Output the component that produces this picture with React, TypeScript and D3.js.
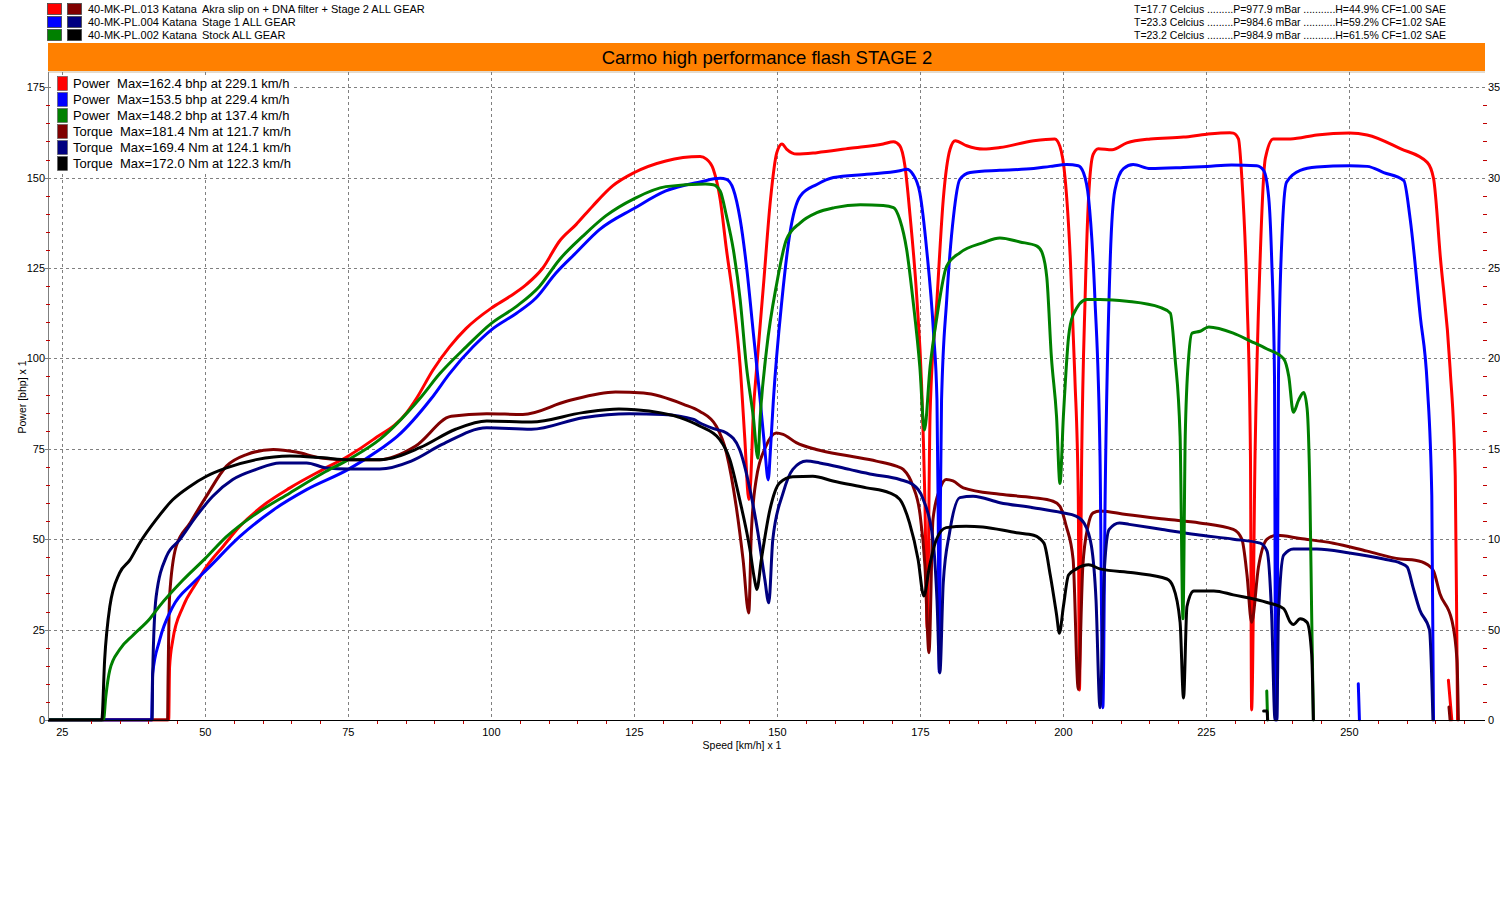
import React from "react";
import * as d3 from "d3";

type Pt = [number, number] | null;

// ---- Header / legend text ----
const runIds = ["40-MK-PL.013 Katana", "40-MK-PL.004 Katana", "40-MK-PL.002 Katana"];
const runDescs = ["Akra slip on + DNA filter + Stage 2 ALL GEAR", "Stage 1 ALL GEAR", "Stock ALL GEAR"];
const runConditions = [
  "T=17.7 Celcius .........P=977.9 mBar ...........H=44.9% CF=1.00 SAE",
  "T=23.3 Celcius .........P=984.6 mBar ...........H=59.2% CF=1.02 SAE",
  "T=23.2 Celcius .........P=984.9 mBar ...........H=61.5% CF=1.02 SAE",
];
const title = "Carmo high performance flash STAGE 2";
const legendLabels = [
  "Power  Max=162.4 bhp at 229.1 km/h",
  "Power  Max=153.5 bhp at 229.4 km/h",
  "Power  Max=148.2 bhp at 137.4 km/h",
  "Torque  Max=181.4 Nm at 121.7 km/h",
  "Torque  Max=169.4 Nm at 124.1 km/h",
  "Torque  Max=172.0 Nm at 122.3 km/h",
];
const xTitle = "Speed [km/h] x 1";
const yTitle = "Power [bhp] x 1";

// ---- Axes ----
const speedDomain = [22.5, 273.7];
const powerDomain = [0, 179.2];
const torqueDomain = [0, 35.84]; // daNm on right axis
const speedTicks = [25, 50, 75, 100, 125, 150, 175, 200, 225, 250];
const powerTicks = [0, 25, 50, 75, 100, 125, 150, 175];
const torqueTicks = [0, 5, 10, 15, 20, 25, 30, 35];
const torqueTickLabels = ["0", "50", "10", "15", "20", "25", "30", "35"];

// ---- Series: power in bhp, torque in Nm, vs speed km/h ----
const powerStage2: Pt[] = [
  [22.5, 0], [43.6, 0], [43.75, 14.6], [44.3, 22], [46.1, 31.3], [48.4, 37.8], [50.2, 42.4], [53.1, 48], [56, 53.5],
  [60.7, 60], [64.8, 64.2], [70.6, 69.3], [75, 73], [79.4, 77.6], [85.2, 85], [86.9, 88.9], [89.8, 96.8], [92.7, 103.2], [95.6, 108.3],
  [100, 113.9], [103.2, 117.1], [106.1, 120.4], [109, 125], [111.9, 132.4], [114.8, 137], [117.7, 142.1], [121.2, 147.7],
  [125, 151.4], [130.5, 154.6], [136.5, 155.8], [137.6, 155.1], [138.8, 152.3], [140, 144], [141.1, 130.1], [142.3, 116.2],
  [143.5, 97.7], [144.3, 78], [145.0, 61], [145.3, 65], [145.8, 85], [146.4, 97.7], [147.6, 120.8], [148.8, 144],
  [149.9, 156.9], [150.8, 159.3], [151.6, 157.9], [153.4, 156.5], [156.9, 156.9], [162.7, 158.1], [168.5, 159.3],
  [170.3, 159.9], [171.4, 158.8], [172.3, 153.2], [173.2, 139.4], [174.4, 116.2], [175.2, 93.1], [175.8, 60], [176.2, 25],
  [176.7, 85], [177.9, 116.2], [179, 144], [180.2, 157.9], [181.1, 160.2], [183.1, 158.8], [186, 157.9], [188.9, 158.3],
  [194.8, 160.2], [198.5, 160.7], [199.4, 158.6], [200.3, 149.8], [201.2, 127.9], [202, 95], [202.6, 62], [202.8, 8.3],
  [203.2, 73], [203.8, 116.9], [204.4, 144.3], [205.2, 156.4], [206.1, 158], [208.5, 157.7], [211.1, 159.6], [215.2, 160.7],
  [221, 161.2], [225.1, 162], [229.1, 162.4], [229.7, 162.3], [230.6, 160.7], [231.2, 149.8], [232.1, 116.9], [232.7, 73], [232.9, 2.8],
  [233.5, 73], [234.4, 127.9], [235.3, 155.3], [236.7, 160.7], [239.7, 160.7], [244.3, 161.8], [250, 162.3], [253.1, 161.8],
  [258.9, 158], [263.6, 154.2], [264.7, 149.8], [265.9, 127.9], [267.6, 97.2], [268.5, 67.5], [268.8, 18.2], [268.9, 0],
  null, [267.3, 11], [267.9, 0],
];

const powerStage1: Pt[] = [
  [22.5, 0], [40.6, 0], [40.8, 12.8], [42, 22], [44.3, 31.3], [47.8, 37.8], [50.2, 41.5], [56, 50.7], [61.9, 58.1],
  [67.7, 63.7], [75, 69.3], [80.5, 74.8], [83.6, 78.5], [89.5, 88.9], [92.7, 95.8], [96.8, 103.2], [100, 107.9], [104.4, 112.5],
  [107.8, 116.7], [111.3, 123.6], [114.8, 129.2], [118.9, 135.6], [125, 141.5], [130.5, 146.3], [136.5, 148.8],
  [140, 149.8], [141.1, 149.5], [142.3, 146.8], [143.5, 138.4], [144.6, 125.5], [145.8, 107], [147, 88.4], [147.8, 75],
  [148.4, 66.4], [148.8, 75], [149.3, 88.4], [150.8, 116.2], [152.2, 134.7], [154, 144.9], [156.9, 148.1], [159.8, 150],
  [165.6, 150.9], [171.4, 151.9], [172.6, 152.3], [173.7, 150.9], [174.9, 145.8], [176.1, 130.1], [177.3, 107],
  [177.9, 88.4], [178.1, 60], [178.3, 13.3], [178.5, 60], [178.7, 88.4], [179.6, 116.2], [180.8, 139.4], [181.9, 149.5],
  [183.7, 151.4], [188.9, 152], [194.8, 152.5], [197.7, 153.1], [200.6, 153.6], [202.6, 153.3], [203.5, 151.4],
  [204.4, 144.3], [205.5, 116.9], [206.4, 73], [206.9, 3.4], [207.3, 62], [208.2, 127.9], [209, 146.5], [210.5, 152.5],
  [212.2, 153.6], [215.2, 152.5], [221, 152.8], [225.1, 153.1], [229.4, 153.5], [233.8, 153.3], [235, 152], [235.9, 144.3],
  [236.4, 127.9], [236.9, 95], [237.1, 0], [237.3, 0], [237.6, 95], [238.2, 133.3], [239, 148.7], [241.4, 152],
  [244.3, 152.9], [250, 153.3], [253.1, 153.1], [256, 151.4], [259.5, 149.2], [260.6, 138.8], [262.4, 111.4],
  [263.6, 92.8], [264.4, 62], [264.7, 0],
  null, [251.55, 10], [251.75, 0],
];

const powerStock: Pt[] = [
  [22.5, 0], [32.2, 0], [32.6, 6.4], [33.3, 13.8], [35, 19.4], [37.4, 23.5], [40.3, 28], [42, 31.5], [46.1, 38.7],
  [50, 44.7], [53.7, 50.7], [59, 57.2], [64.8, 62.8], [70.6, 68.3], [75, 72], [80.5, 77.6], [87.5, 88.9], [91, 95.8],
  [95.6, 103.2], [100, 109.7], [104.4, 114.4], [108.4, 119.9], [111.9, 127.3], [116, 133.8], [120, 139.4], [125, 144.2],
  [130.5, 147.5], [137.4, 148.2], [138.8, 148], [140, 146.3], [141.1, 139.4], [142.3, 130.1], [143.5, 116.2],
  [144.6, 97.7], [145.8, 83.8], [146.6, 72.4], [147, 83.8], [148.1, 102.3], [149.9, 120.8], [151.6, 132.9], [154, 137.5],
  [156.9, 140.3], [160, 141.7], [164.5, 142.5], [168.5, 142.3], [170.3, 141.7], [171.4, 138.4], [172.6, 130.1],
  [173.7, 116.2], [174.9, 97.7], [175.7, 80.2], [176.7, 97.7], [177.9, 111.6], [179.6, 125.5], [181.9, 129.2],
  [186, 132], [188.9, 133.3], [192.4, 132.2], [195.3, 131.1], [196.2, 129.5], [197.1, 122.4], [197.9, 100.4], [198.8, 84],
  [199.4, 65.4], [200, 84], [200.9, 105.9], [201.7, 112], [204.1, 116.3], [206.4, 116.3], [211.1, 115.8], [216.9, 114.1],
  [218.7, 112.5], [219.5, 100.4], [220.4, 78.5], [220.9, 28], [221.3, 78.5], [221.9, 100.4], [222.5, 107], [223.9, 107.5],
  [225.4, 108.7], [229.7, 107], [232.7, 104.8], [235.6, 102.6], [238.5, 99.9], [239.4, 95], [240.2, 85.1], [241.1, 88.4],
  [242, 90.6], [242.6, 86.2], [243.1, 62], [243.4, 29.2], [243.7, 0],
  null, [235.55, 8], [235.7, 0],
];

const torqueStage2: Pt[] = [
  [22.5, 0], [43.4, 0], [43.5, 25.6], [43.75, 68.2], [44.9, 96], [47.3, 108.8], [50.2, 123.8], [53.7, 140.4],
  [57.2, 146.8], [61.9, 149.6], [65.9, 148.2], [70, 145], [73.5, 144], [80.5, 144], [86.7, 151.4], [93, 168], [99.2, 169.4], [105.5, 169], [113.3, 176.4],
  [121.7, 181.4], [126.6, 180.8], [133.6, 174.6], [136.4, 170.8], [139.3, 162.6], [141.1, 147.8], [142.8, 118.2],
  [144, 88.8], [145, 59.2], [145.45, 103.6], [146.3, 133], [148, 151.4], [149.8, 158.8], [151, 158], [153.3, 153.4],
  [156.8, 149.6], [162.6, 146], [167.3, 143.2], [170.8, 140.4], [172, 138.6], [173.7, 129.4], [174.9, 114.6],
  [175.8, 85.2], [176.5, 37.2], [177.2, 111], [178.4, 127.6], [179.5, 133], [180.7, 132.2], [182.5, 128.4],
  [188.9, 124.8], [194.7, 123], [198.2, 121], [199.4, 118.2], [200.5, 107.2], [201.7, 88.8], [202.6, 17], [203.4, 85.2],
  [204.3, 107.2], [205.2, 114.6], [206.4, 115.6], [211, 113.6], [218, 111], [223.8, 109], [229.7, 105.4], [231.2, 100],
  [232.1, 80.2], [232.9, 54], [234.1, 84.6], [235.6, 100], [237.3, 102.2], [241.4, 100.4], [247.2, 97.8], [253.1, 93.4],
  [258.9, 89], [261.5, 88.4], [263.6, 86], [264.7, 82.4], [265.8, 70], [267.9, 55.2], [268.8, 33.2], [269.05, 0],
  null, [267.4, 7.2], [267.6, 0],
];

const torqueStage1: Pt[] = [
  [22.5, 0], [40.7, 0], [40.8, 25.6], [41.4, 68.2], [43.2, 90.4], [45.5, 99.6], [48.4, 112.6], [51.3, 123.8],
  [54.8, 133], [58.9, 138.6], [63, 142.2], [67.7, 142.2], [71.2, 139.4], [75, 138.8], [80.5, 138.8], [86, 143.2], [91.4, 152.4], [99.2, 161.6], [107, 160.8],
  [116, 167.2], [124.1, 169.4], [130, 169], [135.4, 166.2], [136.4, 164.4], [139, 161], [141.1, 158.8], [143.4, 149.6],
  [145.2, 127.6], [146.6, 103.6], [147.8, 77.8], [148.5, 64.8], [149.2, 99.8], [151, 125.6], [152.7, 138.6],
  [155.1, 143.2], [157.4, 142.2], [162.6, 138.6], [166.7, 135.8], [171.4, 133], [173.7, 130.2], [175.5, 122],
  [177.2, 99.8], [177.9, 66.6], [178.4, 26], [179, 76], [180.1, 103.6], [181.9, 123], [184.2, 123.8], [188.9, 120.2],
  [194.7, 117.4], [199.8, 114.6], [202.2, 112.8], [203.6, 109], [204.9, 96.2], [205.7, 66.6], [206.4, 6.8],
  [207.2, 85.2], [208, 105.4], [209.8, 109], [211.5, 108.2], [217.3, 105.4], [223.1, 102.6], [229.7, 100],
  [234.4, 97.8], [235.6, 93.4], [236.4, 58.4], [237, 0], [237.3, 0], [237.6, 58.4], [238.5, 91.2], [240.2, 94.6],
  [244.3, 94.6], [250, 92.4], [256, 89], [258.9, 86.8], [260.1, 84.6], [261.1, 73.6], [262.3, 60.8], [264, 49.8],
  [264.6, 0],
];

const torqueStock: Pt[] = [
  [22.5, 0], [31.9, 0], [32.4, 33.2], [33.3, 62.6], [35, 81.2], [36.8, 88.4], [38.5, 97.8], [41.4, 110.8],
  [44.3, 121.8], [47.3, 129.2], [50.2, 134.8], [53.7, 139.4], [58.9, 144], [64.8, 146], [70.6, 145], [75, 144],
  [80.5, 144], [87.5, 150.6], [93.75, 160.8],
  [99.2, 165.4], [107, 164.8], [116, 170], [122.3, 172], [125.2, 171.6], [133, 167.2], [136.4, 162.6], [139.9, 155.2],
  [141.7, 144], [143.4, 122], [145.2, 94.4], [146, 77.8], [146.4, 72.2], [147.2, 88.8], [148.7, 116.4], [150.4, 131.2],
  [152.7, 134.6], [156.2, 134.8], [159.7, 132.2], [165.6, 128.4], [169.6, 125.6], [171.4, 122], [173.1, 109],
  [174.6, 88.8], [175.6, 68.6], [176.6, 85.2], [177.8, 99.8], [179.5, 106.4], [183, 107.2], [185.9, 106.8],
  [191.8, 103.6], [194.8, 102.2], [196.6, 97.8], [197.7, 80.2], [198.8, 58.4], [199.3, 48], [200, 62.8], [200.9, 80.2],
  [202.3, 83.6], [204.4, 85.8], [206.4, 83.6], [212.2, 81.4], [218.1, 78], [219.2, 73.6], [220.4, 54], [221, 12.2],
  [221.6, 62.8], [222.8, 71.4], [226.3, 71.4], [229.7, 69.2], [235.6, 65], [238.5, 61.6], [239.7, 54], [240.2, 52.8],
  [241.4, 56], [242.6, 54], [243.4, 36.4], [243.7, 0],
  null, [235.0, 5], [235.6, 5], [235.7, 0],
];

const colors = {
  red: "#ff0000",
  blue: "#0000ff",
  green: "#008000",
  darkRed: "#800000",
  navy: "#000080",
  black: "#000000",
};

const headerSwatches = [
  [colors.red, colors.darkRed],
  [colors.blue, colors.navy],
  [colors.green, colors.black],
];
const legendColors = [colors.red, colors.blue, colors.green, colors.darkRed, colors.navy, colors.black];

const FONT = "'Liberation Sans', Arial, sans-serif";

export default function App() {
  const W = 1500;
  const H = 900;
  const left = 48, right = 1485, top = 72, bottom = 720;

  const x = d3.scaleLinear().domain(speedDomain).range([left, right]);
  const y = d3.scaleLinear().domain(powerDomain).range([bottom, top]);
  const yR = d3.scaleLinear().domain(torqueDomain).range([bottom, top]);

  const powerLine = d3
    .line<Pt>()
    .defined((d) => d !== null)
    .x((d) => x((d as [number, number])[0]))
    .y((d) => y((d as [number, number])[1]))
    .curve(d3.curveMonotoneX);
  const torqueLine = d3
    .line<Pt>()
    .defined((d) => d !== null)
    .x((d) => x((d as [number, number])[0]))
    .y((d) => yR((d as [number, number])[1] / 10))
    .curve(d3.curveMonotoneX);

  // draw order per run: power then torque
  const series = [
    { data: powerStage2, color: colors.red, gen: powerLine },
    { data: torqueStage2, color: colors.darkRed, gen: torqueLine },
    { data: powerStage1, color: colors.blue, gen: powerLine },
    { data: torqueStage1, color: colors.navy, gen: torqueLine },
    { data: powerStock, color: colors.green, gen: powerLine },
    { data: torqueStock, color: colors.black, gen: torqueLine },
  ];

  const xMinor = d3.range(25, 271, 5).filter((v) => v % 25 !== 0);
  const yMinor = d3.range(5, 176, 5).filter((v) => v % 25 !== 0);
  const yRMinor = d3.range(1, 36, 1).filter((v) => v % 5 !== 0);

  return (
    <svg
      width={W}
      height={H}
      style={{ position: "absolute", left: 0, top: 0, background: "#fff" }}
      fontFamily={FONT}
    >
      <rect x={0} y={0} width={W} height={H} fill="#fff" />
      {/* header */}
      {runIds.map((id, i) => (
        <g key={id}>
          <rect x={47.5} y={3.5 + i * 13} width={14} height={11} fill={headerSwatches[i][0]} stroke="#444" strokeWidth={0.8} />
          <rect x={67.5} y={3.5 + i * 13} width={14} height={11} fill={headerSwatches[i][1]} stroke="#444" strokeWidth={0.8} />
          <text x={88} y={13 + i * 13} fontSize={11} fill="#000">{id}</text>
          <text x={202} y={13 + i * 13} fontSize={11} fill="#000">{runDescs[i]}</text>
          <text x={1134} y={13 + i * 13} fontSize={10.5} fill="#000" textLength={312} lengthAdjust="spacing" style={{ whiteSpace: "pre" }}>
            {runConditions[i]}
          </text>
        </g>
      ))}
      {/* title bar */}
      <rect x={left} y={43} width={right - left} height={28} fill="#ff8000" />
      <text x={767} y={64} fontSize={18.5} textAnchor="middle" fill="#000">{title}</text>
      <line x1={left} x2={right} y1={72} y2={72} stroke="#c9b79c" strokeWidth={1} />

      {/* grid */}
      <g stroke="#808080" strokeWidth={1} strokeDasharray="3,3">
        {speedTicks.map((t) => (
          <line key={"gx" + t} x1={Math.round(x(t)) + 0.5} x2={Math.round(x(t)) + 0.5} y1={top} y2={bottom} />
        ))}
        {powerTicks.filter((t) => t > 0).map((t) => (
          <line key={"gy" + t} x1={left} x2={right} y1={Math.round(y(t)) + 0.5} y2={Math.round(y(t)) + 0.5} />
        ))}
      </g>

      {/* curves */}
      <defs>
        <clipPath id="plotClip">
          <rect x={left} y={top} width={right - left} height={bottom - top + 1.5} />
        </clipPath>
      </defs>
      <g clipPath="url(#plotClip)" fill="none" strokeWidth={3} strokeLinejoin="round" strokeLinecap="round">
        {series.map((s, i) => (
          <path key={i} d={s.gen(s.data) || ""} stroke={s.color} />
        ))}
      </g>

      {/* legend */}
      <rect x={53} y={75} width={240} height={96} fill="#fff" />
      {legendLabels.map((lab, i) => (
        <g key={lab}>
          <rect x={57.5} y={76.5 + i * 16} width={10} height={14} fill={legendColors[i]} stroke="#555" strokeWidth={0.6} />
          <text x={73} y={88 + i * 16} fontSize={13} fill="#000" style={{ whiteSpace: "pre" }}>{lab}</text>
        </g>
      ))}

      {/* left axis */}
      <line x1={left + 0.5} x2={left + 0.5} y1={top} y2={bottom} stroke="#808080" strokeWidth={1} />
      {yMinor.map((t) => (
        <line key={"ym" + t} x1={left - 2} x2={left + 2} y1={Math.round(y(t)) + 0.5} y2={Math.round(y(t)) + 0.5} stroke="#c00000" />
      ))}
      {powerTicks.map((t) => (
        <g key={"yt" + t}>
          <line x1={left - 3} x2={left + 1} y1={Math.round(y(t)) + 0.5} y2={Math.round(y(t)) + 0.5} stroke="#808080" />
          <text x={45} y={y(t) + 4} fontSize={11} textAnchor="end" fill="#000">{t}</text>
        </g>
      ))}
      <text transform={`translate(26,397) rotate(-90)`} fontSize={10.5} textAnchor="middle" fill="#000">{yTitle}</text>

      {/* bottom axis */}
      <line x1={left} x2={right} y1={bottom + 0.5} y2={bottom + 0.5} stroke="#000" strokeWidth={1.2} />
      {xMinor.map((t) => (
        <line key={"xm" + t} x1={Math.round(x(t)) + 0.5} x2={Math.round(x(t)) + 0.5} y1={bottom + 1} y2={bottom + 4} stroke="#c00000" />
      ))}
      {speedTicks.map((t) => (
        <text key={"xt" + t} x={x(t)} y={736} fontSize={11} textAnchor="middle" fill="#000">{t}</text>
      ))}
      <text x={742} y={749} fontSize={10.5} textAnchor="middle" fill="#000">{xTitle}</text>

      {/* right axis */}
      {yRMinor.map((t) => (
        <line key={"rm" + t} x1={right - 2} x2={right + 2} y1={Math.round(yR(t)) + 0.5} y2={Math.round(yR(t)) + 0.5} stroke="#c00000" />
      ))}
      {torqueTicks.map((t, i) => (
        <text key={"rt" + t} x={1488} y={yR(t) + 4} fontSize={11} fill="#000">{torqueTickLabels[i]}</text>
      ))}
    </svg>
  );
}
